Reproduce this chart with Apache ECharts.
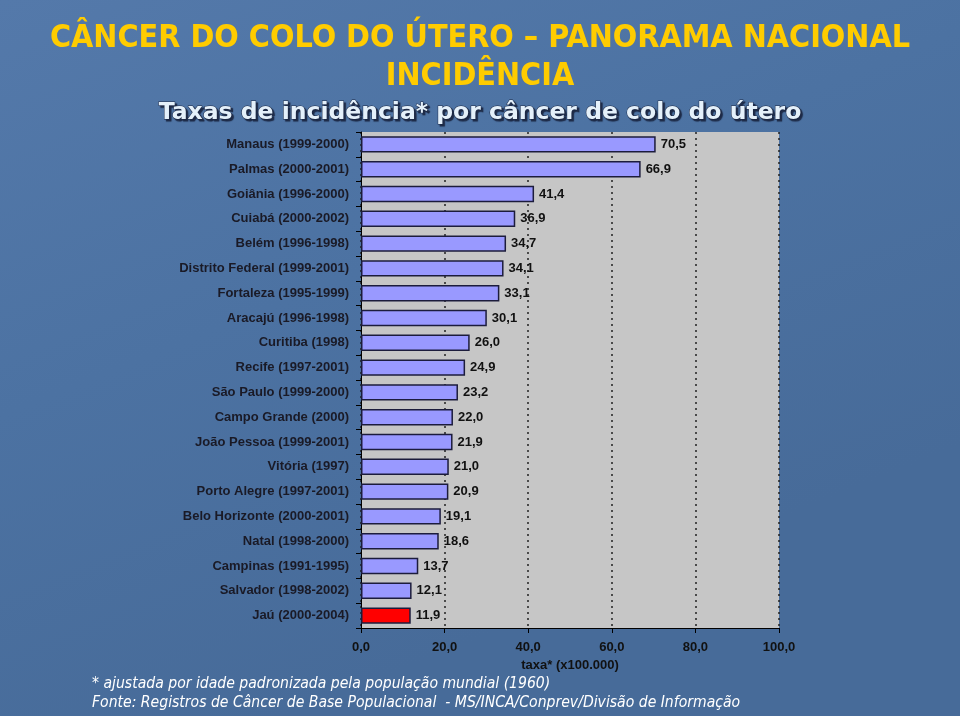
<!DOCTYPE html>
<html><head><meta charset="utf-8">
<script src="https://cdn.jsdelivr.net/npm/echarts@6/dist/echarts.min.js"></script>
<style>html,body{margin:0;padding:0;background:#4d73a3}#c{width:960px;height:716px}</style>
</head><body><div id="c"></div>
<script>
const categories = ["Manaus (1999-2000)","Palmas (2000-2001)","Goiânia (1996-2000)","Cuiabá (2000-2002)","Belém (1996-1998)","Distrito Federal (1999-2001)","Fortaleza (1995-1999)","Aracajú (1996-1998)","Curitiba (1998)","Recife (1997-2001)","São Paulo (1999-2000)","Campo Grande (2000)","João Pessoa (1999-2001)","Vitória (1997)","Porto Alegre (1997-2001)","Belo Horizonte (2000-2001)","Natal (1998-2000)","Campinas (1991-1995)","Salvador (1998-2002)","Jaú (2000-2004)"];
const values = [70.5,66.9,41.4,36.9,34.7,34.1,33.1,30.1,26.0,24.9,23.2,22.0,21.9,21.0,20.9,19.1,18.6,13.7,12.1,11.9];
const highlight = "Jaú (2000-2004)";
const xTicks = [0,20,40,60,80,100];
const titleLine1 = "CÂNCER DO COLO DO ÚTERO – PANORAMA NACIONAL";
const titleLine2 = "INCIDÊNCIA";
const subtitle = "Taxas de incidência* por câncer de colo do útero";
const axisName = "taxa* (x100.000)";
const note1 = "* ajustada por idade padronizada pela população mundial (1960)";
const note2 = "Fonte: Registros de Câncer de Base Populacional  - MS/INCA/Conprev/Divisão de Informação";

const fmt = v => v.toFixed(1).replace('.', ',');
const cond = '"DejaVu Sans Condensed","DejaVu Sans",sans-serif';
const arial = 'Arial, "Liberation Sans", sans-serif';
const chart = echarts.init(document.getElementById('c'));
chart.setOption({
  animation:false,
  backgroundColor:{type:'linear',x:0,y:0,x2:0.3,y2:1,colorStops:[{offset:0,color:'#5479aa'},{offset:0.5,color:'#4c72a2'},{offset:1,color:'#476b99'}]},
  title:[
    {text:titleLine1,left:'center',top:18,textStyle:{color:'#ffcc00',fontSize:32,fontWeight:'bold',fontFamily:cond}},
    {text:titleLine2,left:'center',top:56,textStyle:{color:'#ffcc00',fontSize:32,fontWeight:'bold',fontFamily:cond}},
    {text:subtitle,left:'center',top:96,textStyle:{color:'#e4f0fa',fontSize:23.5,fontWeight:'bold',fontFamily:'"DejaVu Sans",sans-serif',textBorderColor:'#1c2844',textBorderWidth:1,textShadowColor:'#1c2844',textShadowOffsetX:2,textShadowOffsetY:2,textShadowBlur:1}},
    {text:note1,left:87,top:671,textStyle:{color:'#ffffff',fontSize:15.6,fontStyle:'italic',fontWeight:'normal',fontFamily:cond}},
    {text:note2,left:87,top:690,textStyle:{color:'#ffffff',fontSize:15.6,fontStyle:'italic',fontWeight:'normal',fontFamily:cond}}
  ],
  grid:{left:361,right:181,top:132,bottom:88,show:true,backgroundColor:'#c6c6c6',borderWidth:0},
  xAxis:{type:'value',min:0,max:100,interval:20,
    name:axisName,nameLocation:'middle',nameGap:25,
    nameTextStyle:{color:'#111',fontSize:13,fontWeight:'bold',fontFamily:arial},
    axisLine:{show:true,lineStyle:{color:'#000',width:1}},
    axisTick:{show:true,length:5,lineStyle:{color:'#000'}},
    axisLabel:{formatter:v=>fmt(v),color:'#111',fontSize:13,fontWeight:'bold',margin:13,fontFamily:arial},
    splitLine:{show:true,lineStyle:{color:'#222',type:[2,4],width:1.5}}
  },
  yAxis:{type:'category',data:categories,inverse:true,
    axisLine:{show:true,lineStyle:{color:'#000',width:1}},
    axisTick:{show:true,length:5,lineStyle:{color:'#000'}},
    axisLabel:{color:'#1a1a26',fontSize:13,fontWeight:'bold',margin:12,fontFamily:arial},
    splitLine:{show:false}
  },
  series:[{type:'bar',barCategoryGap:'34%',
    data:values.map((v,i)=>({value:v,itemStyle:{color:categories[i]===highlight?'#ff0000':'#9999ff'}})),
    itemStyle:{borderColor:'#1c1c3c',borderWidth:1.5},
    label:{show:true,position:'right',distance:5,formatter:p=>fmt(p.value),color:'#111',fontSize:13,fontWeight:'bold',fontFamily:arial}
  }]
});
</script></body></html>
